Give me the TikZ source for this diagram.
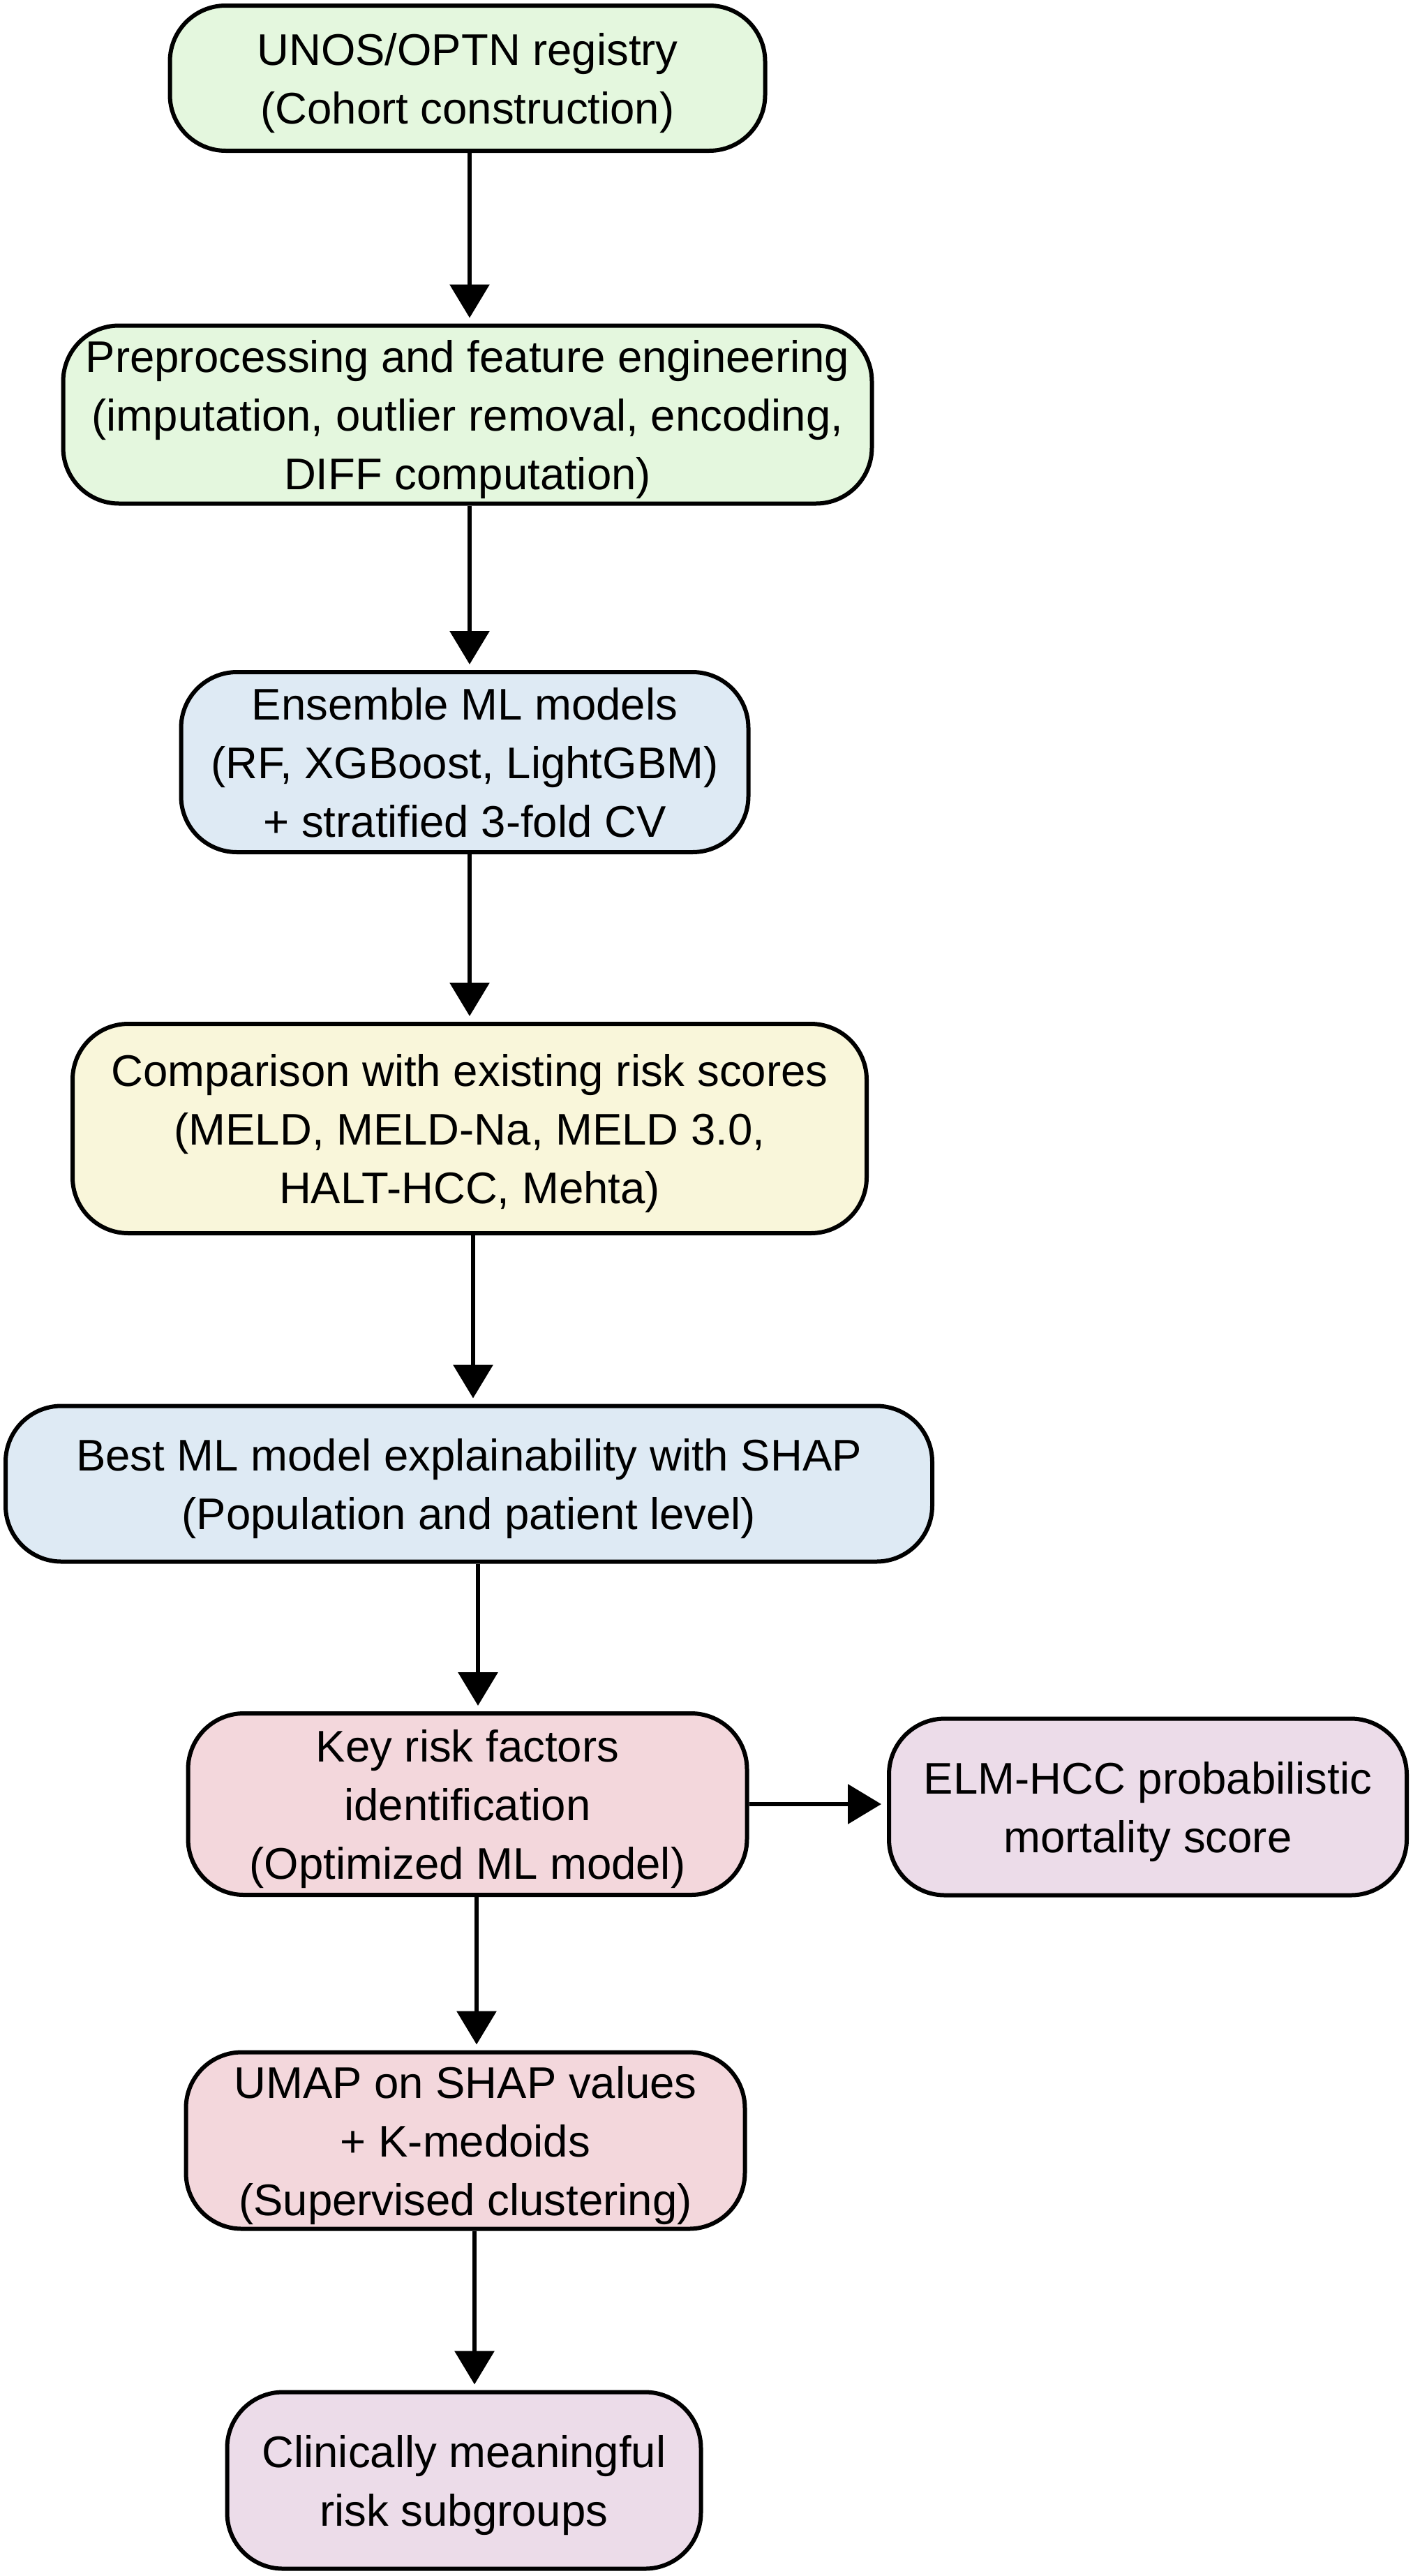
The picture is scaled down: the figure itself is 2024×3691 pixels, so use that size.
\documentclass[tikz,border=0pt]{standalone}
\usepackage{fontspec}
\setmainfont{Liberation Sans}
\usetikzlibrary{arrows.meta}
\definecolor{cgreen}{RGB}{228,247,222}
\definecolor{cblue}{RGB}{222,234,244}
\definecolor{cyellow}{RGB}{249,246,218}
\definecolor{cpink}{RGB}{243,215,220}
\definecolor{clav}{RGB}{236,220,233}
\begin{document}
\begin{tikzpicture}[x=1pt,y=-1pt,
  box/.style={draw=black, line width=6pt, rounded corners=80pt, align=center, inner sep=0pt,
    text depth=-20pt, font=\fontsize{63.5}{84}\selectfont},
  arr/.style={line width=6.5pt, -{Triangle[length=48pt,width=56pt]}, shorten >=8pt}]
\useasboundingbox (0,0) rectangle (2024,3691);
\node[box, fill=cgreen, minimum width=853pt, minimum height=208pt] (n1) at (670,112) {UNOS/OPTN registry\\(Cohort construction)};
\node[box, fill=cgreen, minimum width=1159pt, minimum height=255pt] (n2) at (670,594) {Preprocessing and feature engineering\\(imputation, outlier removal, encoding,\\DIFF computation)};
\node[box, fill=cblue, minimum width=813pt, minimum height=258pt] (n3) at (666,1092) {Ensemble ML models\\(RF, XGBoost, LightGBM)\\+ stratified 3-fold CV};
\node[box, fill=cyellow, minimum width=1138pt, minimum height=300pt] (n4) at (673,1617) {Comparison with existing risk scores\\(MELD, MELD-Na, MELD 3.0,\\HALT-HCC, Mehta)};
\node[box, fill=cblue, minimum width=1328pt, minimum height=223pt] (n5) at (672,2126) {Best ML model explainability with SHAP\\(Population and patient level)};
\node[box, fill=cpink, minimum width=801pt, minimum height=260pt] (n6) at (670,2585) {Key risk factors\\identification\\(Optimized ML model)};
\node[box, fill=clav, minimum width=742pt, minimum height=253pt] (n7) at (1645,2589) {ELM-HCC probabilistic\\mortality score};
\node[box, fill=cpink, minimum width=801pt, minimum height=253pt] (n8) at (667,3067) {UMAP on SHAP values\\+ K-medoids\\(Supervised clustering)};
\node[box, fill=clav, minimum width=679pt, minimum height=253pt] (n9) at (665,3554) {Clinically meaningful\\risk subgroups};
\draw[arr] ([xshift=3pt]n1.south) -- ([xshift=3pt]n1.south |- n2.north);
\draw[arr] ([xshift=3pt]n2.south) -- ([xshift=3pt]n2.south |- n3.north);
\draw[arr] ([xshift=7pt]n3.south) -- ([xshift=7pt]n3.south |- n4.north);
\draw[arr] ([xshift=5pt]n4.south) -- ([xshift=5pt]n4.south |- n5.north);
\draw[arr] ([xshift=13pt]n5.south) -- ([xshift=13pt]n5.south |- n6.north);
\draw[arr] ([xshift=13pt]n6.south) -- ([xshift=13pt]n6.south |- n8.north);
\draw[arr] ([xshift=13pt]n8.south) -- ([xshift=13pt]n8.south |- n9.north);
\draw[arr] (n6.east) -- (n6.east -| n7.west);
\end{tikzpicture}
\end{document}
